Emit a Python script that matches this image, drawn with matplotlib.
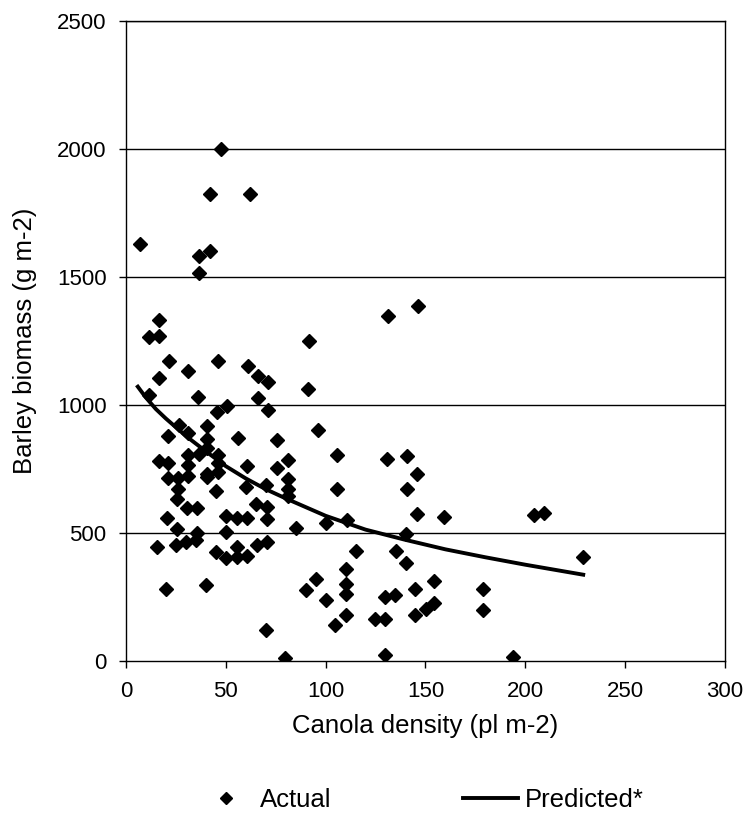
import numpy as np
import matplotlib
matplotlib.use("Agg")
import matplotlib.pyplot as plt

plt.rcParams['font.family'] = ['Liberation Sans', 'DejaVu Sans']

# ---------------------------------------------------------------- #
# actual observations (canola density, barley biomass), read off the chart
actual_density = [
    7, 47.5, 42.3, 62.3, 42.3, 36.7, 36.7, 16.7, 11.7, 16.7,
    21.5, 46.2, 31.2, 16.5, 36.2, 11.5, 45.8, 50.7, 40.8, 26.5,
    31.2, 21.2, 40.8, 40.8, 36.5, 31.2, 46.2, 16.5, 21.2, 31.2,
    46.2, 40.8, 21.2, 26.2, 31.2, 46.2, 40.8, 45.3, 26.2, 25.8,
    30.8, 35.8, 20.8, 50.3, 25.8, 35.8, 50.3, 15.8, 25.3, 30.3,
    35.3, 45.3, 50, 20.3, 40.3, 91.5, 61.2, 66.2, 71.2, 91.2,
    66.2, 71.2, 96.2, 56.2, 75.8, 81.2, 75.8, 60.8, 81.2, 60.3,
    70.3, 81.2, 81.2, 65.3, 70.8, 55.8, 60.8, 70.8, 85.3, 100.3,
    55.8, 65.8, 70.8, 55.8, 60.8, 95.3, 90, 100, 104.5, 70,
    79.8, 105.5, 130.8, 140.8, 145.8, 105.8, 140.8, 145.8, 159.5, 110.8,
    140.3, 115.3, 135.3, 140.3, 110.3, 110.3, 110.3, 154.2, 145, 130,
    135, 154.2, 150.3, 145, 110, 125, 130, 130, 179, 178.7,
    146.5, 131.2, 204.2, 209.2, 228.7, 193.7,
]
actual_biomass = [
    1629, 2000, 1824, 1824, 1603, 1581, 1516, 1333, 1265, 1271,
    1171, 1171, 1132, 1106, 1031, 1041, 972, 998, 920, 923,
    890, 879, 868, 833, 810, 806, 806, 780, 775, 767,
    773, 732, 715, 715, 725, 738, 719, 663, 671, 632,
    599, 599, 560, 567, 517, 502, 504, 446, 452, 465,
    472, 426, 403, 281, 296, 1252, 1152, 1113, 1090, 1064,
    1027, 982, 901, 872, 862, 784, 754, 764, 713, 680,
    689, 674, 647, 615, 602, 559, 559, 554, 521, 539,
    446, 452, 465, 407, 411, 322, 277, 238, 140, 121,
    13, 805, 788, 803, 732, 674, 671, 576, 562, 550,
    495, 430, 429, 383, 361, 303, 264, 312, 281, 251,
    257, 229, 205, 179, 182, 164, 164, 23, 284, 199,
    1388, 1346, 573, 580, 407, 17,
]

# predicted curve at a few densities
pred_density = [6, 10, 15, 20, 30, 40, 50, 60, 70, 80, 90, 100, 120, 140, 160, 180, 200, 229]
pred_biomass = [1072, 1030, 985, 948, 880, 820, 762, 714, 672, 636, 602, 568, 514, 474, 437, 406, 377, 338]

x_ticks = [0, 50, 100, 150, 200, 250, 300]
y_ticks = [0, 500, 1000, 1500, 2000, 2500]

# ---------------------------------------------------------------- #
fig = plt.figure(figsize=(7.49, 8.36), dpi=100)
ax = fig.add_axes([0.168, 0.209, 0.800, 0.766])

# horizontal gridlines
for yv in y_ticks[1:]:
    ax.axhline(yv, color='k', lw=1.0, zorder=1)

ax.plot(actual_density, actual_biomass, linestyle='none', marker='D', markersize=7.5,
        color='k', label='Actual', zorder=3)
ax.plot(pred_density, pred_biomass, color='k', lw=2.8, label='Predicted*', zorder=4)

ax.set_xlim(0, 300)
ax.set_ylim(0, 2500)
ax.set_xticks(x_ticks)
ax.set_yticks(y_ticks)
ax.tick_params(direction='out', length=5, width=1, labelsize=16, pad=9, colors='k')

for side in ['left', 'bottom', 'right', 'top']:
    ax.spines[side].set_color('k')
    ax.spines[side].set_linewidth(1.0)

ax.set_xlabel("Canola density (pl m-2)", fontsize=18.5, labelpad=9)
ax.set_ylabel("Barley biomass (g m-2)", fontsize=18.5, labelpad=14)

handles, labels = ax.get_legend_handles_labels()
fig.legend(handles, labels, loc='center left', bbox_to_anchor=(0.248, 0.043), ncol=2,
           frameon=False, fontsize=18.5, handlelength=2.15, handletextpad=0.25,
           columnspacing=5.1, markerscale=0.75, borderpad=0)

plt.savefig("out.png", dpi=100)
